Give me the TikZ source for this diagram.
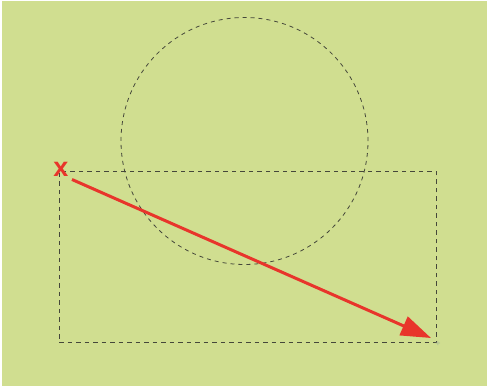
\documentclass[tikz,border=0pt]{standalone}
\usepackage{fontspec}
\setmainfont{Liberation Sans}
\usetikzlibrary{arrows.meta}
\definecolor{bg}{HTML}{D0DE90}
\definecolor{redc}{HTML}{E8352B}
\definecolor{dash}{HTML}{45473A}
\definecolor{plusc}{HTML}{A8B898}
\tikzset{
  dashrect/.style={draw=dash, line width=1pt, dash pattern=on 4.5pt off 4pt},
  dashcirc/.style={draw=dash, line width=0.8pt, dash pattern=on 4pt off 4pt},
  redarrow/.style={draw=redc, line width=3pt, -{Triangle[length=30pt,width=20pt]}},
  marker/.style={text=redc, font=\bfseries\fontsize{27}{27}\selectfont, inner sep=0pt}
}
\begin{document}
\begin{tikzpicture}[x=1pt,y=-1pt]
\useasboundingbox (0,0) rectangle (488,387);
\fill[white] (0,0) rectangle (488,387);
\fill[bg] (1.5,1.5) rectangle (487,386);
\node[draw=none, minimum size=247pt, circle, dashcirc] (circ) at (244.5,141) {};
\node[dashrect, minimum width=377pt, minimum height=171pt, inner sep=0pt, anchor=north west] (rect) at (58.5,171) {};
\node[marker] (x) at (61,169) {x};
\coordinate (s) at (72,179.5);
\coordinate (e) at (431,338);
\draw[redarrow] (s) -- (e);
\node[text=plusc, font=\fontsize{9}{9}\selectfont, inner sep=0pt] (plus) at (438,344) {+};
\end{tikzpicture}
\end{document}
